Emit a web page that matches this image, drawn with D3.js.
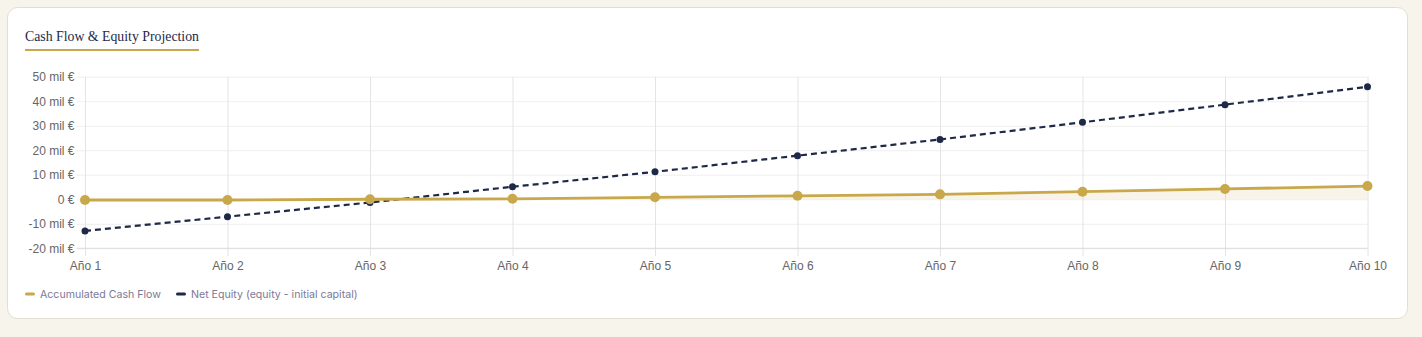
<!DOCTYPE html>
<html>
<head>
<meta charset="utf-8">
<script src="https://cdn.jsdelivr.net/npm/d3@7"></script>
<style>
	html, body { margin: 0; padding: 0; background: #f7f4ec; }
	svg { display: block; }
</style>
</head>
<body>
<svg id="chart"></svg>
<script>
// DATA

var years = ["Año 1", "Año 2", "Año 3", "Año 4", "Año 5", "Año 6", "Año 7", "Año 8", "Año 9", "Año 10"];
var cashFlow = [-300, -300, 0, 200, 800, 1400, 2000, 3100, 4200, 5400];
var netEquity = [-12900, -7100, -1300, 5100, 11200, 17800, 24400, 31400, 38600, 45900];
var yTicks = [-20000, -10000, 0, 10000, 20000, 30000, 40000, 50000];
var seriesNames = ["Accumulated Cash Flow", "Net Equity (equity - initial capital)"];

// DIMENSIONS

var width = 1422,
	height = 337,
	gold = '#c8a84b',
	navy = '#1e2847';

var svg = d3.select('#chart')
	.attr('width', width)
	.attr('height', height);

// card
svg.append('rect')
	.attr('x', 7.5).attr('y', 7.5)
	.attr('width', 1400).attr('height', 311)
	.attr('rx', 10)
	.style('fill', '#fff')
	.style('stroke', '#e3ded2');

// title
svg.append('text')
	.attr('x', 25).attr('y', 41)
	.style('font-family', '"Liberation Serif", "DejaVu Serif", serif')
	.style('font-size', '13.8px')
	.style('fill', '#1e2847')
	.text('Cash Flow & Equity Projection');

svg.append('rect')
	.attr('x', 25).attr('y', 49)
	.attr('width', 174).attr('height', 2)
	.style('fill', gold);

// SCALES

var xScale = d3.scalePoint()
	.domain(years)
	.range([85, 1367.5]);

var yScale = d3.scaleLinear()
	.domain([-20000, 50000])
	.range([248.3, 76.7]);

function fmt(d) {
	return d === 0 ? '0 €' : (d / 1000) + ' mil €';
}

// grid
var yGrid = d3.axisLeft(yScale)
	.tickValues(yTicks)
	.tickSize(-(1367.5 - 77))
	.tickFormat('');
svg.append('g')
	.attr('transform', 'translate(77,0)')
	.call(yGrid)
	.call(function(g) {
		g.select('.domain').remove();
		g.selectAll('line').style('stroke', '#efefef');
	});

var xGrid = d3.axisBottom(xScale)
	.tickSize(-(256 - 76.7))
	.tickFormat('');
svg.append('g')
	.attr('transform', 'translate(0,256)')
	.call(xGrid)
	.call(function(g) {
		g.select('.domain').remove();
		g.selectAll('line').style('stroke', '#e4e4e4');
	});

// axis line
svg.append('line')
	.attr('x1', 77).attr('x2', 1367.5)
	.attr('y1', yScale(-20000)).attr('y2', yScale(-20000))
	.style('stroke', '#dcdcdc');

// y labels
var yAxis = d3.axisLeft(yScale)
	.tickValues(yTicks)
	.tickSize(0)
	.tickPadding(0)
	.tickFormat(fmt);
svg.append('g')
	.attr('transform', 'translate(74.5,0)')
	.call(yAxis)
	.call(function(g) {
		g.select('.domain').remove();
		g.selectAll('text')
			.style('font-family', '"Liberation Sans", Arial, sans-serif')
			.style('font-size', '12px')
			.style('fill', '#666');
	});

// x labels
var xAxis = d3.axisBottom(xScale)
	.tickSize(0)
	.tickPadding(0);
svg.append('g')
	.attr('transform', 'translate(0,261)')
	.call(xAxis)
	.call(function(g) {
		g.select('.domain').remove();
		g.selectAll('text')
			.style('font-family', '"Liberation Sans", Arial, sans-serif')
			.style('font-size', '12px')
			.style('fill', '#666');
	});

// SERIES

var area = d3.area()
	.x(function(d, i) { return xScale(years[i]); })
	.y0(yScale(0))
	.y1(function(d) { return yScale(d); });

svg.append('path')
	.datum(cashFlow)
	.attr('d', area)
	.style('fill', 'rgba(200,168,75,0.12)');

var line = d3.line()
	.x(function(d, i) { return xScale(years[i]); })
	.y(function(d) { return yScale(d); });

svg.append('path')
	.datum(netEquity)
	.attr('d', line)
	.style('fill', 'none')
	.style('stroke', navy)
	.style('stroke-width', 2.2)
	.style('stroke-dasharray', '6,4');

svg.append('path')
	.datum(cashFlow)
	.attr('d', line)
	.style('fill', 'none')
	.style('stroke', gold)
	.style('stroke-width', 2.8);

svg.append('g').selectAll('circle').data(netEquity)
	.enter().append('circle')
	.attr('cx', function(d, i) { return xScale(years[i]); })
	.attr('cy', function(d) { return yScale(d); })
	.attr('r', 3.5)
	.style('fill', navy);

svg.append('g').selectAll('circle').data(cashFlow)
	.enter().append('circle')
	.attr('cx', function(d, i) { return xScale(years[i]); })
	.attr('cy', function(d) { return yScale(d); })
	.attr('r', 5)
	.style('fill', gold);

// LEGEND

var legendX = [25, 176];
var legendColors = [gold, navy];
var legend = svg.append('g').selectAll('g').data(seriesNames)
	.enter().append('g')
	.attr('transform', function(d, i) { return 'translate(' + legendX[i] + ',294)'; });

legend.append('rect')
	.attr('x', 0).attr('y', -1.5)
	.attr('width', 10).attr('height', 3)
	.attr('rx', 1.5)
	.style('fill', function(d, i) { return legendColors[i]; });

legend.append('text')
	.attr('x', 15).attr('y', 4)
	.style('font-family', 'Inter, "Noto Sans", sans-serif')
	.style('font-size', '10.6px')
	.style('fill', '#7b7898')
	.text(function(d) { return d; });
</script>
</body>
</html>
